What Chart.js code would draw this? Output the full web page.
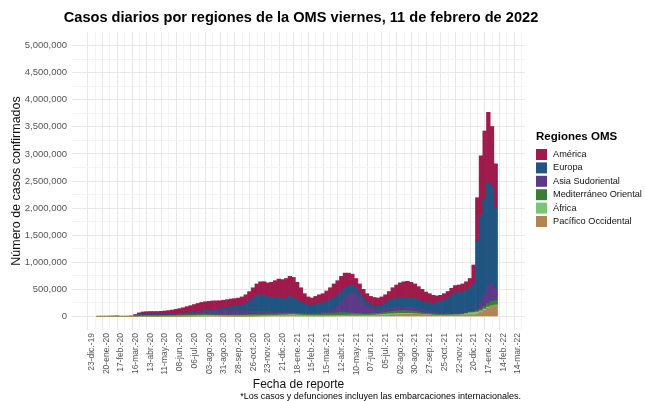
<!DOCTYPE html>
<html lang="es">
<head>
<meta charset="utf-8">
<title>Casos diarios por regiones de la OMS</title>
<script src="https://cdn.jsdelivr.net/npm/chart.js@4.4.1/dist/chart.umd.min.js"></script>
<style>
  html, body { margin: 0; padding: 0; background: #fff; }
  #wrap { position: relative; width: 645px; height: 401px; }
</style>
</head>
<body>
<div id="wrap"><canvas id="grafico"></canvas></div>
<script>
// Promedio diario por semana, en miles de casos
// Semana 0 = semana que empieza el 02-ene-20, la última termina el 03-feb-22
const pacifico = [
  0.1, 0.3, 1.5, 3, 3.5, 5, 1.5, 0.8, 0.6, 0.5,
  1, 2, 2.5, 3, 2.5, 1.5, 1.2, 1, 1, 1,
  1.2, 1.5, 2, 2.5, 3, 3.5, 4, 5, 6, 7,
  7, 7, 6.5, 6, 5.5, 5, 5, 4.5, 4.5, 4.5,
  5, 5, 5.5, 6, 7, 8, 9, 10, 10, 10,
  10, 10, 12, 12, 11, 10, 9, 8, 8, 8,
  8, 8, 9, 10, 11, 13, 15, 17, 18, 19,
  19, 18, 16, 14, 13, 12, 13, 14, 18, 22,
  27, 32, 36, 40, 42, 42, 40, 36, 32, 28,
  25, 22, 20, 19, 19, 20, 22, 24, 25, 26,
  27, 28, 28, 40, 70, 110, 150, 180, 200
];
const africa = [
  0, 0, 0, 0, 0, 0, 0, 0, 0, 0.05,
  0.2, 0.5, 0.8, 0.9, 1.2, 1.5, 2, 2.5, 3, 3.5,
  4, 5, 6, 7, 8, 9, 11, 13, 15, 15,
  13, 11, 9, 8, 7, 6, 5.5, 5, 5, 5,
  5, 5, 5, 5.5, 6, 7, 8, 9, 11, 13,
  16, 18, 22, 22, 19, 16, 13, 11, 9, 8,
  8, 7, 7, 7, 7, 7, 7, 7, 7, 7,
  7, 7, 8, 9, 11, 14, 18, 22, 25, 25,
  24, 22, 20, 18, 16, 14, 12, 10, 8, 7,
  6, 5, 4, 4, 3.5, 3.5, 3.5, 4, 5, 10,
  25, 40, 45, 42, 35, 28, 22, 16, 12
];
const mediterraneo = [
  0, 0, 0, 0, 0, 0, 0.1, 0.5, 1, 1.5,
  2.5, 3.5, 4, 4.5, 4.5, 5, 6, 7, 9, 11,
  13, 16, 19, 20, 20, 19, 18, 17, 16, 15,
  14, 14, 14, 14, 15, 16, 18, 19, 20, 21,
  22, 24, 26, 28, 30, 31, 32, 32, 30, 27,
  25, 24, 23, 22, 21, 20, 21, 23, 26, 29,
  32, 36, 41, 44, 46, 48, 48, 46, 42, 37,
  32, 28, 26, 25, 25, 26, 27, 30, 34, 38,
  42, 46, 50, 50, 48, 45, 40, 35, 30, 26,
  23, 20, 18, 16, 15, 14, 13, 13, 12, 12,
  12, 13, 14, 20, 30, 45, 65, 80, 85
];
const asia = [
  0, 0, 0, 0, 0, 0, 0, 0, 0, 0,
  0.1, 0.3, 0.8, 1, 1.5, 2, 2.5, 3.5, 4.5, 6,
  7.5, 9, 11, 13, 16, 20, 25, 31, 40, 50,
  56, 62, 67, 73, 82, 92, 97, 92, 85, 80,
  70, 60, 53, 50, 47, 45, 42, 38, 34, 29,
  25, 22, 20, 17, 15, 14, 13, 13, 15, 17,
  19, 22, 30, 45, 75, 120, 195, 285, 350, 385,
  355, 285, 205, 145, 105, 80, 65, 58, 56, 60,
  65, 70, 70, 65, 60, 63, 68, 58, 50, 45,
  40, 35, 30, 28, 26, 24, 22, 21, 20, 18,
  17, 16, 16, 40, 130, 240, 330, 330, 220
];
const europa = [
  0, 0, 0, 0, 0, 0, 0, 0.3, 1.5, 4,
  20, 30, 35, 37, 36, 33, 30, 28, 25, 22,
  20, 19, 19, 20, 20, 20, 20, 21, 22, 23,
  25, 28, 32, 37, 42, 48, 56, 65, 77, 100,
  140, 195, 255, 300, 310, 295, 272, 262, 262, 272,
  262, 250, 290, 270, 240, 205, 175, 155, 150, 160,
  170, 180, 195, 210, 215, 205, 190, 170, 150, 130,
  115, 100, 82, 70, 62, 60, 65, 85, 115, 145,
  165, 170, 170, 172, 175, 172, 170, 165, 160, 155,
  155, 165, 185, 210, 245, 285, 335, 370, 380, 385,
  395, 420, 500, 1250, 1600, 1750, 1900, 1800, 1500
];
const america = [
  0, 0, 0, 0, 0, 0, 0, 0, 0.1, 0.5,
  12, 30, 40, 42, 45, 48, 50, 53, 58, 65,
  72, 80, 88, 98, 113, 128, 142, 153, 160, 160,
  163, 165, 160, 152, 148, 143, 140, 144, 148, 150,
  158, 170, 185, 210, 240, 255, 257, 279, 313, 339,
  342, 376, 373, 377, 324, 265, 189, 150, 132, 148,
  163, 167, 188, 214, 246, 267, 285, 275, 233, 202,
  172, 162, 163, 157, 154, 158, 152, 151, 152, 170,
  207, 240, 274, 295, 309, 294, 270, 246, 220, 189,
  171, 143, 123, 113, 112, 114, 125, 138, 138, 149,
  164, 183, 347, 800, 1100, 1250, 1300, 1100, 800
];

// Etiquetas del eje x, una cada 28 días desde el 23-dic-19
const fechasEje = [
  "23-dic.-19", "20-ene.-20", "17-feb.-20", "16-mar.-20", "13-abr.-20", "11-may.-20",
  "08-jun.-20", "06-jul.-20", "03-ago.-20", "31-ago.-20", "28-sep.-20", "26-oct.-20",
  "23-nov.-20", "21-dic.-20", "18-ene.-21", "15-feb.-21", "15-mar.-21", "12-abr.-21",
  "10-may.-21", "07-jun.-21", "05-jul.-21", "02-ago.-21", "30-ago.-21", "27-sep.-21",
  "25-oct.-21", "22-nov.-21", "20-dic.-21", "17-ene.-22", "14-feb.-22", "14-mar.-22"
];

const regiones = [
  { nombre: "Pacífico Occidental", datos: pacifico, color: "#b08552" },
  { nombre: "África", datos: africa, color: "#7dc576" },
  { nombre: "Mediterráneo Oriental", datos: mediterraneo, color: "#3b7d37" },
  { nombre: "Asia Sudoriental", datos: asia, color: "#5b3b87" },
  { nombre: "Europa", datos: europa, color: "#1f5580" },
  { nombre: "América", datos: america, color: "#9f1b4b" }
];

const titulo = "Casos diarios por regiones de la OMS viernes, 11 de febrero de 2022";
const nota = "*Los casos y defunciones incluyen las embarcaciones internacionales.";

const DIA = 86400000;
const inicio = Date.UTC(2019, 11, 23);
const primeraSemana = Date.UTC(2020, 0, 2);
// centro de cada semana, en días desde el 23-dic-19
const semanas = america.map((_, i) => (primeraSemana - inicio) / DIA + i * 7 + 3.5);

const fuente = '"Liberation Sans", Arial, sans-serif';
Chart.defaults.font.family = fuente;

// titulo, leyenda y nota al pie
const textos = {
  id: "textos",
  afterDraw(chart) {
    const ctx = chart.ctx;
    ctx.save();
    ctx.fillStyle = "#000";
    ctx.textBaseline = "middle";
    ctx.textAlign = "center";
    ctx.font = "bold 14.6px " + fuente;
    ctx.fillText(titulo, 301, 18);

    const lx = chart.chartArea.right + 11;
    ctx.textAlign = "left";
    ctx.font = "bold 11.5px " + fuente;
    ctx.fillText("Regiones OMS", lx, 137);
    ctx.font = "9.2px " + fuente;
    regiones.slice().reverse().forEach((r, i) => {
      const y = 149 + i * 13.4;
      ctx.fillStyle = r.color;
      ctx.fillRect(lx, y, 11, 11);
      ctx.fillStyle = "#111";
      ctx.fillText(r.nombre, lx + 17, y + 5.5);
    });

    ctx.fillStyle = "#000";
    ctx.textAlign = "right";
    ctx.font = "9px " + fuente;
    ctx.fillText(nota, 521, 397);
    ctx.restore();
  }
};

new Chart(document.getElementById("grafico"), {
  type: "bar",
  data: {
    datasets: regiones.map(r => ({
      label: r.nombre,
      data: r.datos.map((v, i) => ({ x: semanas[i], y: v * 1000 })),
      backgroundColor: r.color,
      borderWidth: 0,
      barPercentage: 1,
      categoryPercentage: 1
    }))
  },
  options: {
    responsive: true,
    maintainAspectRatio: false,
    animation: false,
    layout: { padding: { top: 32, right: 120, bottom: 9, left: 4 } },
    plugins: {
      legend: { display: false },
      title: { display: false },
      tooltip: { enabled: false }
    },
    scales: {
      x: {
        type: "linear",
        stacked: true,
        min: -30,
        max: 818,
        afterBuildTicks: s => {
          const t = [];
          for (let d = 0; d <= 812; d += 14) t.push({ value: d });
          s.ticks = t;
        },
        afterFit: s => { s.height = 62; },
        grid: {
          drawTicks: false,
          color: c => c.tick && c.tick.value % 28 === 0 ? "#e8e8e8" : "#f1f1f1",
          lineWidth: c => c.tick && c.tick.value % 28 === 0 ? 1 : 0.8
        },
        border: { display: false },
        ticks: {
          autoSkip: false,
          minRotation: 90,
          maxRotation: 90,
          padding: 3,
          color: "#555",
          font: { size: 8.5 },
          callback: v => v % 28 === 0 ? fechasEje[v / 28] : ""
        },
        title: {
          display: true,
          text: "Fecha de reporte",
          color: "#111",
          font: { size: 12 },
          padding: { top: 0, bottom: 0 }
        }
      },
      y: {
        stacked: true,
        min: -250000,
        max: 5250000,
        afterBuildTicks: s => {
          const t = [];
          for (let v = 0; v <= 5000000; v += 250000) t.push({ value: v });
          s.ticks = t;
        },
        afterFit: s => { s.width = 68; },
        grid: {
          drawTicks: false,
          color: c => c.tick && c.tick.value % 500000 === 0 ? "#e8e8e8" : "#f1f1f1",
          lineWidth: c => c.tick && c.tick.value % 500000 === 0 ? 1 : 0.8
        },
        border: { display: false },
        ticks: {
          padding: 5,
          color: "#555",
          font: { size: 9.5 },
          callback: v => v % 500000 === 0 ? v.toLocaleString("en-US") : ""
        },
        title: {
          display: true,
          text: "Número de casos confirmados",
          color: "#111",
          font: { size: 12.5 },
          padding: { top: 5.5, bottom: 0 }
        }
      }
    }
  },
  plugins: [textos]
});
</script>
</body>
</html>
